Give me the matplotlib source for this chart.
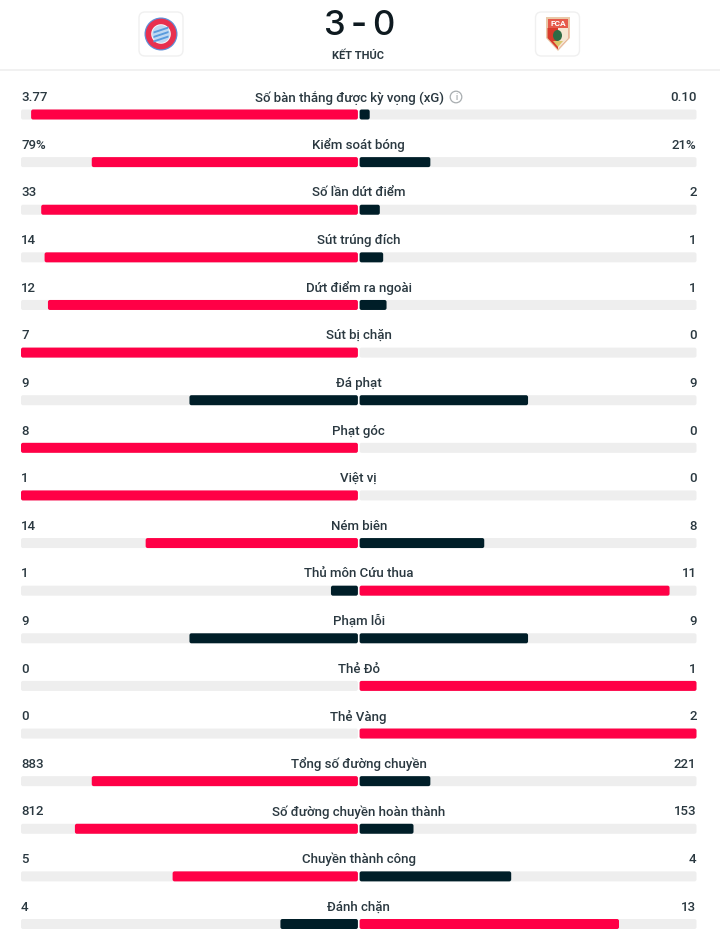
import matplotlib
matplotlib.use("Agg")
import matplotlib.pyplot as plt
from matplotlib.patches import FancyBboxPatch, Circle, Polygon, Rectangle, Ellipse

plt.rcParams['font.family'] = ['Roboto', 'DejaVu Sans']

home_score = 3
away_score = 0
status = "KẾT THÚC"
categories = ["Số bàn thắng được kỳ vọng (xG)", "Kiểm soát bóng", "Số lần dứt điểm", "Sút trúng đích",
              "Dứt điểm ra ngoài", "Sút bị chặn", "Đá phạt", "Phạt góc", "Việt vị", "Ném biên",
              "Thủ môn Cứu thua", "Phạm lỗi", "Thẻ Đỏ", "Thẻ Vàng", "Tổng số đường chuyền",
              "Số đường chuyền hoàn thành", "Chuyền thành công", "Đánh chặn"]
home_labels = ["3.77", "79%", "33", "14", "12", "7", "9", "8", "1", "14", "1", "9", "0", "0", "883", "812", "5", "4"]
away_labels = ["0.10", "21%", "2", "1", "1", "0", "9", "0", "0", "8", "11", "9", "1", "2", "221", "153", "4", "13"]
home_share = [97, 79, 94, 93, 92, 100, 50, 100, 100, 63, 8, 50, 0, 0, 79, 84, 55, 23]
away_share = [3, 21, 6, 7, 8, 0, 50, 0, 0, 37, 92, 50, 100, 100, 21, 16, 45, 77]

RED = "#FF0046"
DARK = "#001E28"
TRACK = "#EEEEEE"
TEXT = "#2A3840"

W, H = 720, 940
fig = plt.figure(figsize=(W / 100, H / 100), dpi=100, facecolor="white")

# stats axes: x is share in percent each side of centre, y is row index
L, R, TOP, BOT = 21.0, 696.5, 114.5, 924.0
ax = fig.add_axes([L / W, 1 - BOT / H, (R - L) / W, (BOT - TOP) / H])
ax.set_xlim(-100, 100)
ax.set_ylim(len(categories) - 1, 0)
ax.axis("off")
px_x = (R - L) / 200
px_y = (BOT - TOP) / (len(categories) - 1)
bar_h = 10 / px_y
gap = 0.25
aspect = px_x / px_y


def bar(x0, x1, y, color):
    if x1 - x0 <= 0:
        return
    r = min(2 / px_x, (x1 - x0) / 2)
    ax.add_patch(FancyBboxPatch((x0, y - bar_h / 2), x1 - x0, bar_h,
                                boxstyle=f"round,pad=0,rounding_size={r}",
                                mutation_aspect=aspect, fc=color, ec="none", clip_on=False))


label_dy = 16.8 / px_y
for i, cat in enumerate(categories):
    bar(-100, -gap, i, TRACK)
    bar(gap, 100, i, TRACK)
    h, a = home_share[i], away_share[i]
    hc = RED if h > a else DARK
    ac = RED if a > h else DARK
    bar(-gap - h * (100 - gap) / 100, -gap, i, hc)
    bar(gap, gap + a * (100 - gap) / 100, i, ac)
    ty = i - label_dy
    tx = -9.5 / px_x if i == 0 else 0
    ax.text(tx, ty, cat, ha="center", va="center", fontsize=9.55, color=TEXT, weight=500, clip_on=False)
    ax.text(-100, ty, home_labels[i], ha="left", va="center", fontsize=9.55, color=TEXT, weight=500, clip_on=False)
    ax.text(100, ty, away_labels[i], ha="right", va="center", fontsize=9.55, color=TEXT, weight=500, clip_on=False)

# header drawn on a pixel-space overlay
hd = fig.add_axes([0, 0, 1, 1], zorder=5)
hd.set_xlim(0, W)
hd.set_ylim(H, 0)
hd.axis("off")
hd.patch.set_alpha(0)

hd.plot([0, W], [69.5, 69.5], color="#EFEFEF", lw=1.2)
score_font = dict(ha="center", va="center", fontsize=25, color="#0E1A20", family=["Inter", "DejaVu Sans"], weight=500)
hd.text(334.5, 26, str(home_score), **score_font)
hd.text(358.5, 26.5, "-", ha="center", va="center", fontsize=25, color="#0E1A20", family=["Inter", "DejaVu Sans"], weight=600)
hd.text(383, 26, str(away_score), **score_font)
hd.text(358.5, 55.5, status, ha="center", va="center", fontsize=7.9, color=TEXT, weight=600)

for x0 in (139, 535.5):
    hd.add_patch(FancyBboxPatch((x0, 12), 44, 44, boxstyle="round,pad=0,rounding_size=6",
                                fc="white", ec="#F0F0F0", lw=1))

# Bayern crest
hd.add_patch(Circle((161, 34), 16.5, fc="#5F8FD8", ec="none"))
hd.add_patch(Circle((161, 34), 15.3, fc="#E8304F", ec="none"))
hd.add_patch(Circle((161, 34), 9.8, fc="#F4F6FA", ec="none"))
hd.add_patch(Circle((161, 34), 8.8, fc="#BFD8F2", ec="none"))
for y in (28.5, 33, 37.5):
    hd.add_patch(Polygon([(153.5, y + 3), (168.5, y - 2), (168.5, y), (153.5, y + 5)], fc="#5A9BDD", ec="none"))

# Augsburg crest
hd.add_patch(Polygon([(546, 17), (570, 17), (570, 38), (558, 51), (546, 38)], fc="#E9C9A8", ec="none"))
hd.add_patch(Polygon([(547.5, 28), (568.5, 28), (568.5, 38), (558, 49.5), (547.5, 38)], fc="#D93A2B", ec="none"))
hd.add_patch(Polygon([(558, 28), (568.5, 28), (568.5, 38), (558, 49.5)], fc="#F4E6D2", ec="none"))
hd.add_patch(Rectangle((548, 18.5), 20, 9, fc="#E65A4A", ec="none"))
hd.text(558, 23, "FCA", ha="center", va="center", fontsize=6, color="white", weight="bold")
hd.add_patch(Ellipse((557.5, 35.5), 9, 11, fc="#2F6B45", ec="none"))
hd.add_patch(Polygon([(553, 41), (563, 41), (558, 47)], fc="#D9C66B", ec="none"))

# info icon
hd.add_patch(Circle((456, 97), 5.8, fc="white", ec="#A8ADB0", lw=0.9))
hd.text(456, 97, "i", ha="center", va="center", fontsize=6.5, color="#8A9094")

fig.savefig("out.png", dpi=100, facecolor="white")
